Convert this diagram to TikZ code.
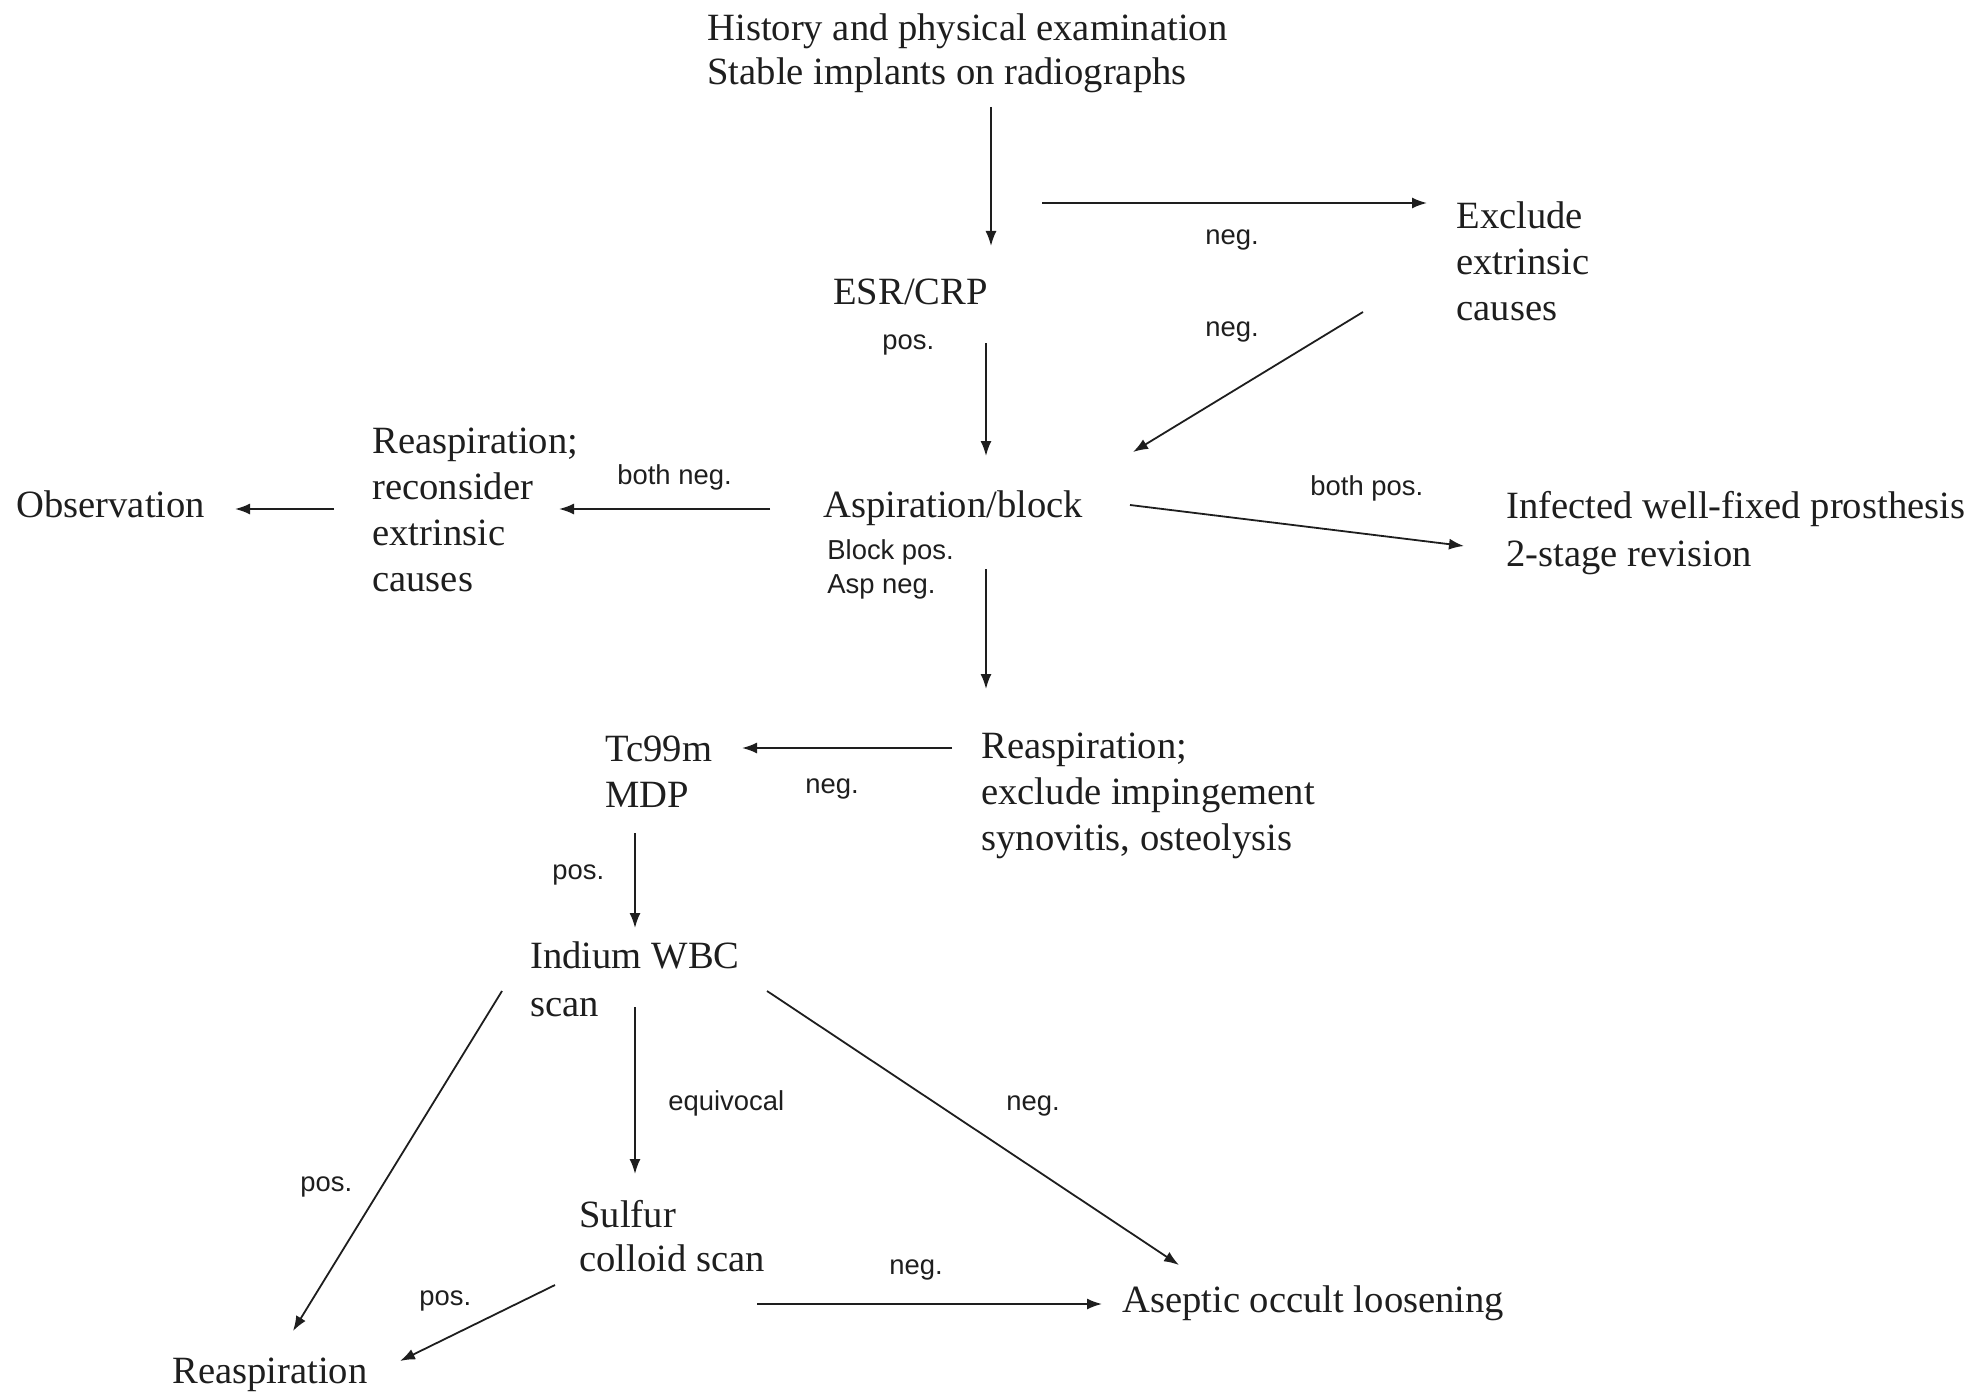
\documentclass[tikz,border=0pt]{standalone}
\usepackage{fontspec}
\setmainfont{Liberation Serif}
\newfontfamily\labelfont{Liberation Sans}
\usetikzlibrary{arrows.meta}
\definecolor{ink}{RGB}{30,30,30}
\begin{document}
\begin{tikzpicture}[x=0.5pt,y=-0.5pt,
  txt/.style={anchor=base west, inner sep=0pt, align=left, font=\fontsize{19.3}{#1}\selectfont, text=ink},
  txt/.default=23,
  lbl/.style={anchor=base west, inner sep=0pt, font=\labelfont\fontsize{13.7}{17}\selectfont, text=ink},
  arr/.style={draw=ink, line width=0.9pt, -{Latex[length=7.5pt,width=5.5pt]}}]
\useasboundingbox (0,0) rectangle (1979,1391);

% main texts (multi-line nodes are placed by the baseline of their last line)
\node[txt=22] (hist) at (707,85) {History and physical examination\\Stable implants on radiographs};
\node[txt] (esr) at (833,304) {ESR/CRP};
\node[txt] (excl) at (1456,320) {Exclude\\extrinsic\\causes};
\node[txt] (asp) at (823,517) {Aspiration/block};
\node[txt] (reasp1) at (372,591) {Reaspiration;\\reconsider\\extrinsic\\causes};
\node[txt] (obs) at (16,517) {Observation};
\node[txt=24] (inf) at (1506,566) {Infected well-fixed prosthesis\\2-stage revision};
\node[txt] (tc) at (605,807) {Tc99m\\MDP};
\node[txt] (reasp2) at (981,850) {Reaspiration;\\exclude impingement\\synovitis, osteolysis};
\node[txt=24] (ind) at (530,1016) {Indium WBC\\scan};
\node[txt=22] (sul) at (579,1271) {Sulfur\\colloid scan};
\node[txt] (asep) at (1122,1312) {Aseptic occult loosening};
\node[txt] (reasp3) at (172,1383) {Reaspiration};

% labels
\node[lbl] (lpos1) at (882,349) {pos.};
\node[lbl] (lneg1) at (1205,244) {neg.};
\node[lbl] (lneg2) at (1205,336) {neg.};
\node[lbl] (lblock) at (827,559) {Block pos.};
\node[lbl] (lasp) at (827,593) {Asp neg.};
\node[lbl] (lbneg) at (617,484) {both neg.};
\node[lbl] (lbpos) at (1310,495) {both pos.};
\node[lbl] (lneg3) at (805,793) {neg.};
\node[lbl] (lpos2) at (552,879) {pos.};
\node[lbl] (lequiv) at (668,1110) {equivocal};
\node[lbl] (lneg4) at (1006,1110) {neg.};
\node[lbl] (lpos3) at (300,1191) {pos.};
\node[lbl] (lpos4) at (419,1305) {pos.};
\node[lbl] (lneg5) at (889,1274) {neg.};

% connector end points
\coordinate (histout) at (991,107);
\coordinate (esrin) at (991,246);
\coordinate (exclfrom) at (1042,203);
\coordinate (exclin) at (1427,203);
\coordinate (exclout) at (1363,312);
\coordinate (aspinr) at (1133,452);
\coordinate (esrout) at (986,343);
\coordinate (aspin) at (986,456);
\coordinate (aspoutl) at (770,509);
\coordinate (reasp1in) at (559,509);
\coordinate (reasp1out) at (334,509);
\coordinate (obsin) at (235,509);
\coordinate (aspoutr) at (1130,505);
\coordinate (infin) at (1464,546);
\coordinate (aspout) at (986,569);
\coordinate (reasp2in) at (986,689);
\coordinate (reasp2out) at (952,748);
\coordinate (tcin) at (742,748);
\coordinate (tcout) at (635,833);
\coordinate (indin) at (635,928);
\coordinate (indout) at (635,1007);
\coordinate (sulin) at (635,1174);
\coordinate (indoutl) at (502,991);
\coordinate (reasp3inl) at (293,1331);
\coordinate (indoutr) at (767,991);
\coordinate (asepin) at (1179,1265);
\coordinate (suloutl) at (555,1285);
\coordinate (reasp3in) at (400,1361);
\coordinate (suloutr) at (757,1304);
\coordinate (asepinl) at (1102,1304);

% connectors
\draw[arr] (histout) -- (esrin);
\draw[arr] (exclfrom) -- (exclin);
\draw[arr] (exclout) -- (aspinr);
\draw[arr] (esrout) -- (aspin);
\draw[arr] (aspoutl) -- (reasp1in);
\draw[arr] (reasp1out) -- (obsin);
\draw[arr] (aspoutr) -- (infin);
\draw[arr] (aspout) -- (reasp2in);
\draw[arr] (reasp2out) -- (tcin);
\draw[arr] (tcout) -- (indin);
\draw[arr] (indout) -- (sulin);
\draw[arr] (indoutl) -- (reasp3inl);
\draw[arr] (indoutr) -- (asepin);
\draw[arr] (suloutl) -- (reasp3in);
\draw[arr] (suloutr) -- (asepinl);
\end{tikzpicture}
\end{document}
